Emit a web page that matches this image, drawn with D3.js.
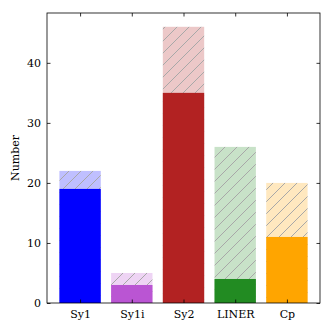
<!DOCTYPE html>
<html>
<head>
<meta charset="utf-8">
<script src="https://cdn.jsdelivr.net/npm/d3@7"></script>
<style>
  body { margin: 0; background: #fff; }
  text { font-family: "DejaVu Serif", serif; }
</style>
</head>
<body>
<div id="chart"></div>
<script>
"use strict"

// data
let categories = ["Sy1", "Sy1i", "Sy2", "LINER", "Cp"];
let solidCounts = [19, 3, 35, 4, 11];
let totalCounts = [22, 5, 46, 26, 20];
let barColors = ["#0000ff", "#ba55d3", "#b22222", "#228b22", "#ffa500"];
let yTicks = [0, 10, 20, 30, 40];

let width = 332, height = 332;
let plotLeft = 47, plotRight = 320, plotTop = 13, plotBottom = 303;
let hatchStep = 12;

let drawing = d3.select("#chart")
    .append("svg")
    .attr("width", width)
    .attr("height", height);

/* scales: matplotlib-like margins */
let x = d3.scaleLinear().domain([-0.64, 4.64]).range([plotLeft, plotRight]);
let y = d3.scaleLinear().domain([0, 48.3]).range([plotBottom, plotTop]);
let barW = x(0.8) - x(0);

/* hatch pattern for each colour, light fill + grey diagonal lines */
let defs = drawing.append("defs");
barColors.forEach(function (c, i) {
    let s = hatchStep;
    let pat = defs.append("pattern")
        .attr("id", "hatch" + i)
        .attr("patternUnits", "userSpaceOnUse")
        .attr("width", s)
        .attr("height", s);
    pat.append("rect")
        .attr("width", s)
        .attr("height", s)
        .attr("fill", c)
        .attr("fill-opacity", 0.25);
    pat.append("path")
        .attr("d", "M-2," + (s + 2) + " L" + (s + 2) + ",-2 M-2,2 L2,-2 M" + (s - 2) + "," + (s + 2) + " L" + (s + 2) + "," + (s - 2))
        .attr("stroke", "#a8a8a8")
        .attr("stroke-width", 1);
});

/* hatched total bars */
drawing.append("g").selectAll("rect")
    .data(categories)
    .join("rect")
    .attr("x", (d, i) => x(i) - barW / 2)
    .attr("y", (d, i) => y(totalCounts[i]))
    .attr("width", barW)
    .attr("height", (d, i) => y(0) - y(totalCounts[i]))
    .attr("fill", (d, i) => "url(#hatch" + i + ")");

/* solid bars */
drawing.append("g").selectAll("rect")
    .data(categories)
    .join("rect")
    .attr("x", (d, i) => x(i) - barW / 2)
    .attr("y", (d, i) => y(solidCounts[i]))
    .attr("width", barW)
    .attr("height", (d, i) => y(0) - y(solidCounts[i]))
    .attr("fill", (d, i) => barColors[i]);

/* axes, ticks pointing inward on all sides */
let xIdx = categories.map((d, i) => i);

let axBottom = drawing.append("g")
    .attr("transform", "translate(0," + plotBottom + ")")
    .call(d3.axisBottom(x).tickValues(xIdx).tickFormat(i => categories[i]).tickSizeInner(-3.5).tickSizeOuter(0).tickPadding(7));
let axTop = drawing.append("g")
    .attr("transform", "translate(0," + plotTop + ")")
    .call(d3.axisTop(x).tickValues(xIdx).tickFormat("").tickSizeInner(-3.5).tickSizeOuter(0));
let axLeft = drawing.append("g")
    .attr("transform", "translate(" + plotLeft + ",0)")
    .call(d3.axisLeft(y).tickValues(yTicks).tickSizeInner(-3.5).tickSizeOuter(0).tickPadding(6));
let axRight = drawing.append("g")
    .attr("transform", "translate(" + plotRight + ",0)")
    .call(d3.axisRight(y).tickValues(yTicks).tickFormat("").tickSizeInner(-3.5).tickSizeOuter(0));

[axBottom, axTop, axLeft, axRight].forEach(function (a) {
    a.selectAll("text")
        .attr("font-family", "DejaVu Serif, serif")
        .attr("font-size", 11)
        .attr("fill", "#000");
    a.selectAll("line").attr("stroke", "#000").attr("stroke-width", 0.8);
    a.select(".domain").remove();
});

/* frame */
drawing.append("rect")
    .attr("x", plotLeft)
    .attr("y", plotTop)
    .attr("width", plotRight - plotLeft)
    .attr("height", plotBottom - plotTop)
    .attr("fill", "none")
    .attr("stroke", "#000")
    .attr("stroke-width", 0.8);

/* y label */
drawing.append("text")
    .attr("transform", "translate(19," + ((plotTop + plotBottom) / 2) + ") rotate(-90)")
    .attr("text-anchor", "middle")
    .attr("font-size", 11)
    .attr("fill", "#000")
    .text("Number");
</script>
</body>
</html>
